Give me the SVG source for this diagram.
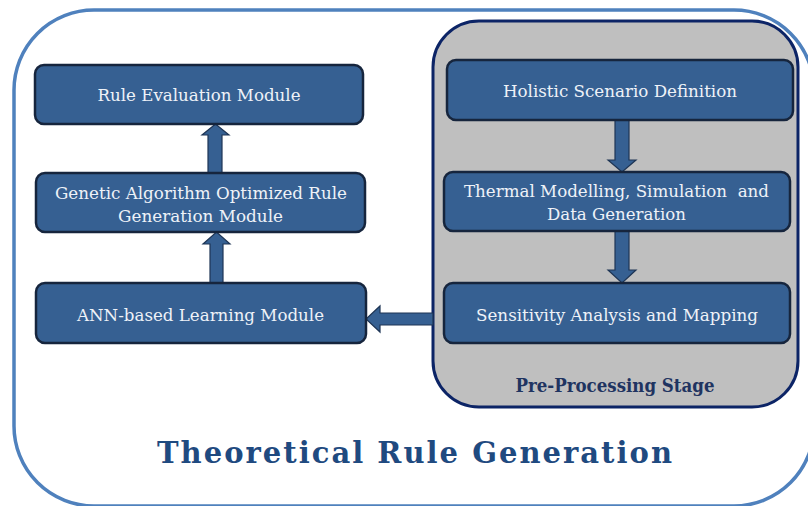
<svg xmlns="http://www.w3.org/2000/svg" width="808" height="506" viewBox="0 0 808 506">
<style>
.box{fill:#366092;stroke:#16253d;stroke-width:2.5}
.t{font-family:"DejaVu Serif","Liberation Serif",serif;font-size:17px;fill:#eef2f8;text-anchor:middle}
.arr{fill:#366092;stroke:#1e3555;stroke-width:1.2}
</style>
<rect width="808" height="506" fill="#ffffff"/>
<rect x="14" y="10" width="800" height="496" rx="80" ry="80" fill="#ffffff" stroke="#4f81bd" stroke-width="3.5"/>
<g id="preprocessing">
<rect x="433" y="21" width="365" height="386" rx="46" ry="46" fill="#bfbfbf" stroke="#0c2466" stroke-width="3"/>
<text x="615" y="392" font-family="DejaVu Serif,Liberation Serif,serif" font-size="18" font-weight="bold" fill="#1f3461" text-anchor="middle" textLength="199" lengthAdjust="spacingAndGlyphs">Pre-Processing Stage</text>
</g>
<g id="connectors">
<path class="arr" d="M208,173 V135 H202 L215.5,124 L229,135 H222 V173 Z"/>
<path class="arr" d="M210,283 V244 H203 L216.5,232 L230,244 H223 V283 Z"/>
<path class="arr" d="M615,120 V160 H608 L622,172 L636,160 H629 V120 Z"/>
<path class="arr" d="M615,231 V270 H608 L622,283 L636,270 H629 V231 Z"/>
<path class="arr" d="M433,313 H380 V306 L366,319 L380,332 V325 H433 Z"/>
</g>
<g id="rule-evaluation">
<rect class="box" x="35" y="65" width="328" height="59" rx="9"/>
<text class="t" x="199" y="101" textLength="203" lengthAdjust="spacingAndGlyphs">Rule Evaluation Module</text>
</g>
<g id="genetic">
<rect class="box" x="36" y="173" width="329" height="59" rx="9"/>
<text class="t" x="201" y="199" textLength="292" lengthAdjust="spacingAndGlyphs">Genetic Algorithm Optimized Rule</text>
<text class="t" x="200.5" y="222" textLength="165" lengthAdjust="spacingAndGlyphs">Generation Module</text>
</g>
<g id="ann">
<rect class="box" x="36" y="283" width="330" height="60" rx="9"/>
<text class="t" x="200.5" y="321" textLength="247" lengthAdjust="spacingAndGlyphs">ANN-based Learning Module</text>
</g>
<g id="holistic">
<rect class="box" x="447" y="60" width="346" height="60" rx="9"/>
<text class="t" x="620" y="97" textLength="234" lengthAdjust="spacingAndGlyphs">Holistic Scenario Definition</text>
</g>
<g id="thermal">
<rect class="box" x="444" y="172" width="346" height="59" rx="9"/>
<text class="t" x="616.5" y="197" textLength="305" lengthAdjust="spacingAndGlyphs" xml:space="preserve">Thermal Modelling, Simulation  and</text>
<text class="t" x="616.5" y="220" textLength="139" lengthAdjust="spacingAndGlyphs">Data Generation</text>
</g>
<g id="sensitivity">
<rect class="box" x="444" y="283" width="346" height="60" rx="9"/>
<text class="t" x="617" y="321" textLength="282" lengthAdjust="spacingAndGlyphs">Sensitivity Analysis and Mapping</text>
</g>
<text x="414.5" y="463" font-family="DejaVu Serif,Liberation Serif,serif" font-size="29" font-weight="bold" fill="#1f4a80" text-anchor="middle" textLength="515" lengthAdjust="spacing">Theoretical Rule Generation</text>
</svg>
